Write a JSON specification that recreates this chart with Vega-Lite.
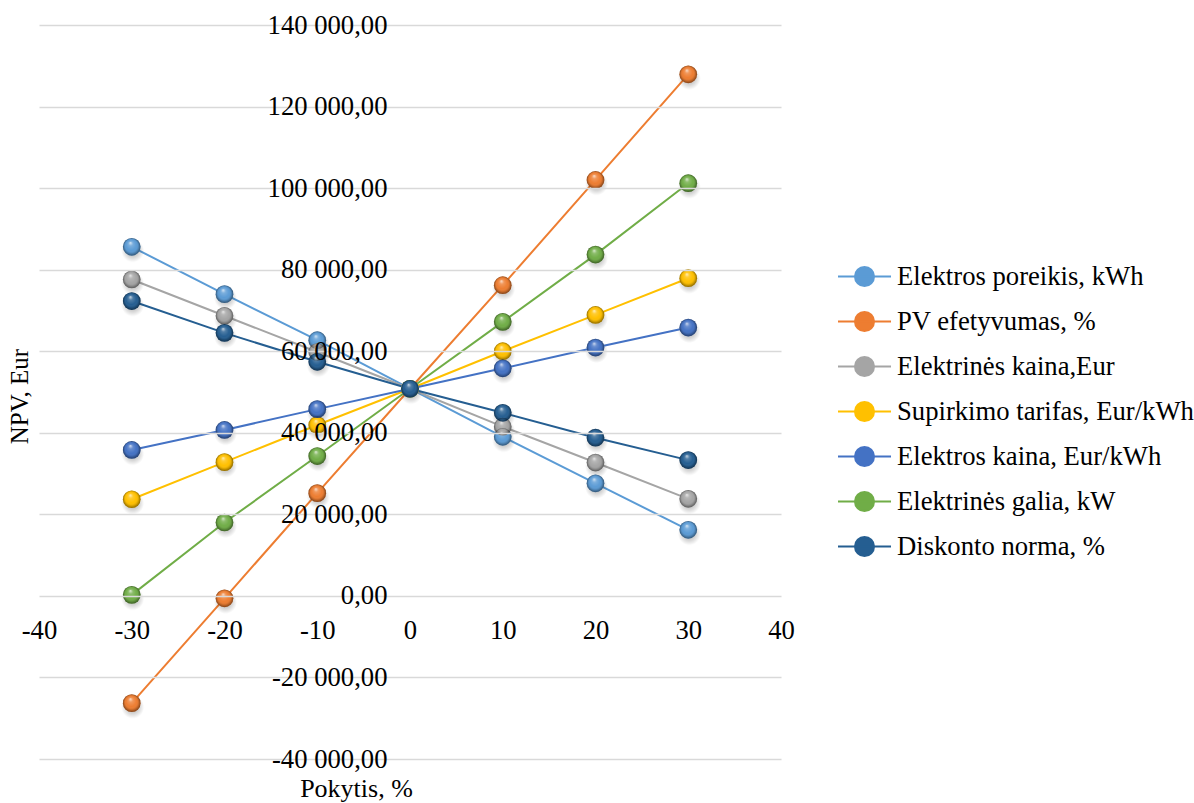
{
  "$schema": "https://vega.github.io/schema/vega-lite/v6.json",
  "width": 742,
  "height": 734,
  "autosize": "none",
  "padding": {"left": 39, "top": 25, "right": 413, "bottom": 44},
  "background": "white",
  "config": {
    "view": {"stroke": null},
    "font": "Liberation Serif",
    "axis": {"labelFont": "Liberation Serif", "titleFont": "Liberation Serif"},
    "legend": {"labelFont": "Liberation Serif", "titleFont": "Liberation Serif"}
  },
  "data": {
    "values": [
      {"series": "Elektros poreikis, kWh", "x": -30, "v": 85600},
      {"series": "Elektros poreikis, kWh", "x": -20, "v": 74000},
      {"series": "Elektros poreikis, kWh", "x": -10, "v": 62700},
      {"series": "Elektros poreikis, kWh", "x": 0, "v": 50800},
      {"series": "Elektros poreikis, kWh", "x": 10, "v": 39000},
      {"series": "Elektros poreikis, kWh", "x": 20, "v": 27600},
      {"series": "Elektros poreikis, kWh", "x": 30, "v": 16200},
      {"series": "PV efetyvumas, %", "x": -30, "v": -26300},
      {"series": "PV efetyvumas, %", "x": -20, "v": -600},
      {"series": "PV efetyvumas, %", "x": -10, "v": 25200},
      {"series": "PV efetyvumas, %", "x": 0, "v": 50800},
      {"series": "PV efetyvumas, %", "x": 10, "v": 76200},
      {"series": "PV efetyvumas, %", "x": 20, "v": 102000},
      {"series": "PV efetyvumas, %", "x": 30, "v": 127900},
      {"series": "Elektrinės kaina,Eur", "x": -30, "v": 77600},
      {"series": "Elektrinės kaina,Eur", "x": -20, "v": 68700},
      {"series": "Elektrinės kaina,Eur", "x": -10, "v": 59800},
      {"series": "Elektrinės kaina,Eur", "x": 0, "v": 50800},
      {"series": "Elektrinės kaina,Eur", "x": 10, "v": 41500},
      {"series": "Elektrinės kaina,Eur", "x": 20, "v": 32700},
      {"series": "Elektrinės kaina,Eur", "x": 30, "v": 23800},
      {"series": "Supirkimo tarifas, Eur/kWh", "x": -30, "v": 23700},
      {"series": "Supirkimo tarifas, Eur/kWh", "x": -20, "v": 32800},
      {"series": "Supirkimo tarifas, Eur/kWh", "x": -10, "v": 41900},
      {"series": "Supirkimo tarifas, Eur/kWh", "x": 0, "v": 50800},
      {"series": "Supirkimo tarifas, Eur/kWh", "x": 10, "v": 60000},
      {"series": "Supirkimo tarifas, Eur/kWh", "x": 20, "v": 68900},
      {"series": "Supirkimo tarifas, Eur/kWh", "x": 30, "v": 77900},
      {"series": "Elektros kaina, Eur/kWh", "x": -30, "v": 35800},
      {"series": "Elektros kaina, Eur/kWh", "x": -20, "v": 40700},
      {"series": "Elektros kaina, Eur/kWh", "x": -10, "v": 45800},
      {"series": "Elektros kaina, Eur/kWh", "x": 0, "v": 50800},
      {"series": "Elektros kaina, Eur/kWh", "x": 10, "v": 55800},
      {"series": "Elektros kaina, Eur/kWh", "x": 20, "v": 60900},
      {"series": "Elektros kaina, Eur/kWh", "x": 30, "v": 65800},
      {"series": "Elektrinės galia, kW", "x": -30, "v": 250},
      {"series": "Elektrinės galia, kW", "x": -20, "v": 18000},
      {"series": "Elektrinės galia, kW", "x": -10, "v": 34300},
      {"series": "Elektrinės galia, kW", "x": 0, "v": 50800},
      {"series": "Elektrinės galia, kW", "x": 10, "v": 67200},
      {"series": "Elektrinės galia, kW", "x": 20, "v": 83700},
      {"series": "Elektrinės galia, kW", "x": 30, "v": 101200},
      {"series": "Diskonto norma, %", "x": -30, "v": 72300},
      {"series": "Diskonto norma, %", "x": -20, "v": 64500},
      {"series": "Diskonto norma, %", "x": -10, "v": 57400},
      {"series": "Diskonto norma, %", "x": 0, "v": 50800},
      {"series": "Diskonto norma, %", "x": 10, "v": 44900},
      {"series": "Diskonto norma, %", "x": 20, "v": 38800},
      {"series": "Diskonto norma, %", "x": 30, "v": 33300}
    ]
  },
  "encoding": {
    "x": {
      "field": "x",
      "type": "quantitative",
      "scale": {"domain": [-40, 40], "nice": false, "zero": false},
      "axis": {
        "title": "Pokytis, %",
        "values": [-40, -30, -20, -10, 0, 10, 20, 30, 40],
        "format": "d",
        "labelExpr": "replace(datum.label, '\u2212', '-')",
        "offset": -163,
        "domain": false,
        "ticks": false,
        "grid": false,
        "labelPadding": 21,
        "labelFlush": false,
        "labelOverlap": false,
        "labelFont": "Liberation Serif",
        "labelFontSize": 26.67,
        "labelColor": "#000000",
        "titleFont": "Liberation Serif",
        "titleFontSize": 26,
        "titleFontWeight": "normal",
        "titleColor": "#000000",
        "titleX": 317,
        "titleY": 200,
        "titleAlign": "center",
        "titleBaseline": "alphabetic",
        "zindex": 1
      }
    },
    "y": {
      "field": "v",
      "type": "quantitative",
      "scale": {"domain": [-40000, 140000], "nice": false},
      "axis": {
        "title": "NPV, Eur",
        "values": [-40000, -20000, 0, 20000, 40000, 60000, 80000, 100000, 120000, 140000],
        "labelExpr": "replace(replace(replace(format(datum.value, ',.2f'), regexp(',', 'g'), ' '), '.', ','), '\u2212', '-')",
        "offset": -371,
        "domain": false,
        "ticks": false,
        "grid": true,
        "gridColor": "#d9d9d9",
        "gridWidth": 1.5,
        "labelPadding": 23,
        "labelFlush": false,
        "labelOverlap": false,
        "labelFont": "Liberation Serif",
        "labelFontSize": 26.67,
        "labelColor": "#000000",
        "titleFont": "Liberation Serif",
        "titleFontSize": 25,
        "titleFontWeight": "normal",
        "titleColor": "#000000",
        "titleX": -383,
        "titleY": 371,
        "titleAngle": 270,
        "titleAlign": "center",
        "titleBaseline": "alphabetic",
        "zindex": 1
      }
    }
  },
  "layer": [
    {
      "mark": {"type": "line", "strokeWidth": 2},
      "encoding": {
        "color": {
          "field": "series",
          "type": "nominal",
          "scale": {
            "domain": ["Elektros poreikis, kWh", "PV efetyvumas, %", "Elektrinės kaina,Eur", "Supirkimo tarifas, Eur/kWh", "Elektros kaina, Eur/kWh", "Elektrinės galia, kW", "Diskonto norma, %"],
            "range": ["#5B9BD5", "#ED7D31", "#A5A5A5", "#FFC000", "#4472C4", "#70AD47", "#255E91"]
          },
          "legend": {
            "title": null,
            "orient": "none",
            "legendX": 798,
            "legendY": 224,
            "symbolType": "M-1,0L1,0M0.36,0A0.36,0.36,0,1,1,-0.36,0A0.36,0.36,0,1,1,0.36,0Z",
            "symbolSize": 2809,
            "symbolStrokeWidth": 2,
            "labelFont": "Liberation Serif",
            "labelFontSize": 26.67,
            "labelColor": "#000000",
            "labelLimit": 0,
            "labelOffset": 5,
            "rowPadding": 3,
            "padding": 0,
            "encode": {
              "symbols": {
                "update": {
                  "fill": {"scale": "color", "field": "value"},
                  "stroke": {"scale": "color", "field": "value"},
                  "opacity": {"value": 1}
                }
              }
            }
          }
        }
      }
    },
    {
      "transform": [{"filter": "datum.x != 0 || datum.series == 'Diskonto norma, %'"}],
      "mark": {
        "type": "point",
        "filled": true,
        "size": 520,
        "xOffset": 1,
        "yOffset": 4,
        "opacity": 1,
        "fill": {
          "gradient": "radial",
          "x1": 0.5, "y1": 0.5, "r1": 0,
          "x2": 0.5, "y2": 0.5, "r2": 0.5,
          "stops": [
            {"offset": 0, "color": "rgba(0,0,0,0.35)"},
            {"offset": 0.6, "color": "rgba(0,0,0,0.15)"},
            {"offset": 1, "color": "rgba(0,0,0,0)"}
          ]
        }
      }
    },
    {
      "mark": {"type": "point", "filled": true, "size": 314, "opacity": 1},
      "encoding": {
        "color": {"field": "series", "type": "nominal"}
      }
    },
    {
      "transform": [{"filter": "datum.x != 0 || datum.series == 'Diskonto norma, %'"}],
      "mark": {
        "type": "point",
        "filled": true,
        "size": 314,
        "opacity": 1,
        "fill": {
          "gradient": "radial",
          "x1": 0.42, "y1": 0.26, "r1": 0,
          "x2": 0.5, "y2": 0.5, "r2": 0.5,
          "stops": [
            {"offset": 0, "color": "rgba(255,255,255,0.8)"},
            {"offset": 0.25, "color": "rgba(255,255,255,0.2)"},
            {"offset": 0.6, "color": "rgba(255,255,255,0)"},
            {"offset": 0.8, "color": "rgba(0,0,0,0.12)"},
            {"offset": 1, "color": "rgba(0,0,0,0.45)"}
          ]
        }
      }
    }
  ]
}
